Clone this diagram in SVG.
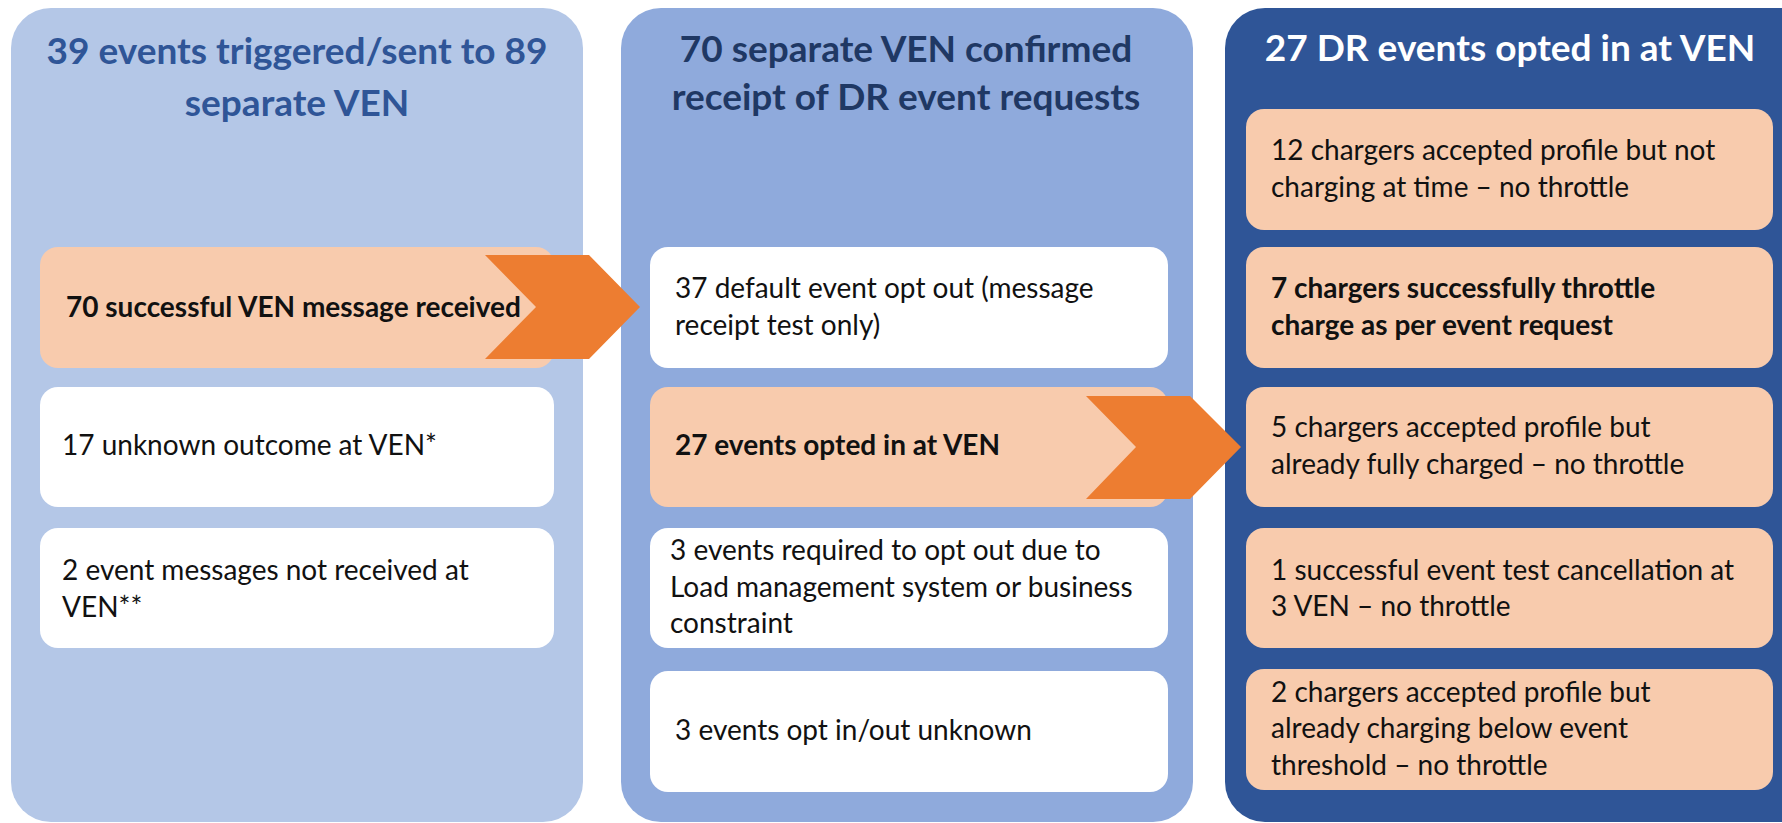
<svg xmlns="http://www.w3.org/2000/svg" width="1782" height="823" viewBox="0 0 1782 823">
<defs>
<style>
.t{font-family:Lato,"Open Sans","Liberation Sans",sans-serif;}
.title{font-size:37px;font-weight:bold;text-anchor:middle;}
.body{font-size:28px;fill:#111;}
.b{font-weight:bold;}
.wbox{fill:#FFFFFF;}
.obox{fill:#F8CBAD;}
.chev{fill:#ED7D31;}
</style>
</defs>
<rect width="1782" height="823" fill="#FFFFFF"/>
<g id="panel1">
<rect x="11" y="8" width="572" height="814" rx="40" fill="#B4C7E7"/>
<text class="t title" fill="#2F5597"><tspan x="297" y="64">39 events triggered/sent to 89</tspan><tspan x="297" y="116">separate VEN</tspan></text>
</g>
<g id="panel2">
<rect x="621" y="8" width="572" height="814" rx="40" fill="#8FAADC"/>
<text class="t title" fill="#1F3864"><tspan x="906" y="62">70 separate VEN confirmed</tspan><tspan x="906" y="110">receipt of DR event requests</tspan></text>
</g>
<g id="panel3">
<rect x="1225" y="8" width="600" height="814" rx="40" fill="#2F5597"/>
<text class="t title" fill="#FFFFFF"><tspan x="1510" y="61">27 DR events opted in at VEN</tspan></text>
</g>
<g id="n-p1-success">
<rect class="obox" x="40" y="247" width="514" height="121" rx="18"/>
<text class="t body b" x="66" y="317">70 successful VEN message received</text>
</g>
<g id="n-p1-unknown">
<rect class="wbox" x="40" y="387" width="514" height="120" rx="18"/>
<text class="t body" x="62" y="455">17 unknown outcome at VEN*</text>
</g>
<g id="n-p1-notreceived">
<rect class="wbox" x="40" y="528" width="514" height="120" rx="18"/>
<text class="t body"><tspan x="62" y="580">2 event messages not received at</tspan><tspan x="62" y="617">VEN**</tspan></text>
</g>
<g id="n-p2-default">
<rect class="wbox" x="650" y="247" width="518" height="121" rx="18"/>
<text class="t body"><tspan x="675" y="298">37 default event opt out (message</tspan><tspan x="675" y="335">receipt test only)</tspan></text>
</g>
<g id="n-p2-optedin">
<rect class="obox" x="650" y="387" width="518" height="120" rx="18"/>
<text class="t body b" x="675" y="455">27 events opted in at VEN</text>
</g>
<g id="n-p2-required">
<rect class="wbox" x="650" y="528" width="518" height="120" rx="18"/>
<text class="t body"><tspan x="670" y="560">3 events required to opt out due to</tspan><tspan x="670" y="597">Load management system or business</tspan><tspan x="670" y="633">constraint</tspan></text>
</g>
<g id="n-p2-unknown">
<rect class="wbox" x="650" y="671" width="518" height="121" rx="18"/>
<text class="t body" x="675" y="740">3 events opt in/out unknown</text>
</g>
<g id="n-p3-12">
<rect class="obox" x="1246" y="109" width="527" height="121" rx="18"/>
<text class="t body"><tspan x="1271" y="160">12 chargers accepted profile but not</tspan><tspan x="1271" y="197">charging at time – no throttle</tspan></text>
</g>
<g id="n-p3-7">
<rect class="obox" x="1246" y="247" width="527" height="121" rx="18"/>
<text class="t body b"><tspan x="1271" y="298">7 chargers successfully throttle</tspan><tspan x="1271" y="335">charge as per event request</tspan></text>
</g>
<g id="n-p3-5">
<rect class="obox" x="1246" y="387" width="527" height="120" rx="18"/>
<text class="t body"><tspan x="1271" y="437">5 chargers accepted profile but</tspan><tspan x="1271" y="474">already fully charged – no throttle</tspan></text>
</g>
<g id="n-p3-1">
<rect class="obox" x="1246" y="528" width="527" height="120" rx="18"/>
<text class="t body"><tspan x="1271" y="580">1 successful event test cancellation at</tspan><tspan x="1271" y="616">3 VEN – no throttle</tspan></text>
</g>
<g id="n-p3-2">
<rect class="obox" x="1246" y="669" width="527" height="121" rx="18"/>
<text class="t body"><tspan x="1271" y="702">2 chargers accepted profile but</tspan><tspan x="1271" y="738">already charging below event</tspan><tspan x="1271" y="775">threshold – no throttle</tspan></text>
</g>
<g id="connectors">
<polygon class="chev" points="485,255 589,255 640,307 589,359 485,359 536,307"/>
<polygon class="chev" points="1086,396 1190,396 1241,447 1190,499 1086,499 1136,447"/>
</g>
</svg>
